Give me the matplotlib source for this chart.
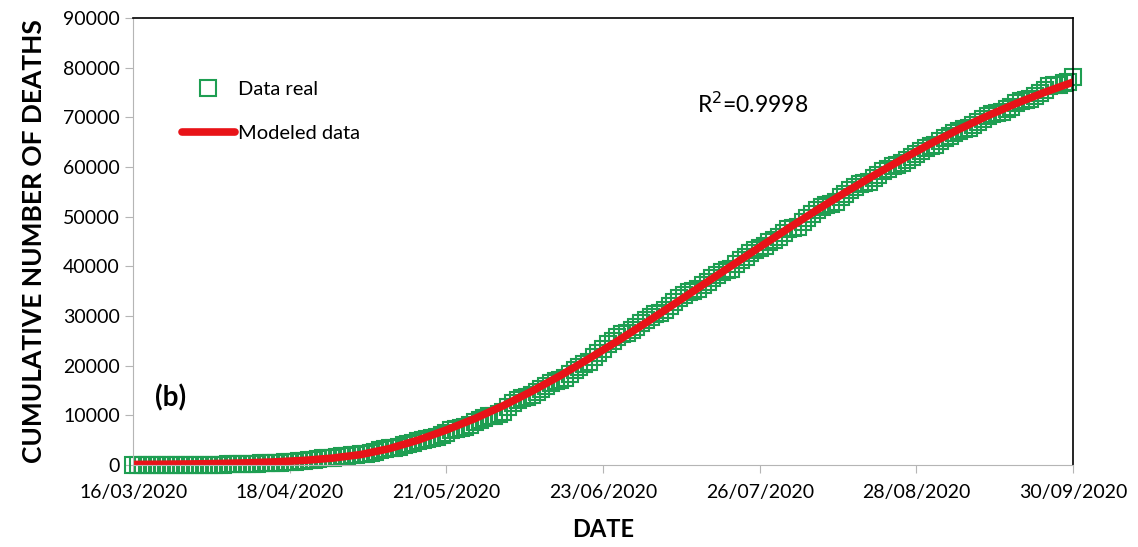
import datetime as dt
import matplotlib
matplotlib.use("Agg")
import matplotlib.pyplot as plt
import numpy as np

# cumulative deaths, one value per day from 16/03/2020 to 30/09/2020
deaths_mar = [0, 0, 1, 1, 2, 2, 2, 4, 5, 6, 8, 12, 16, 20, 28, 29]
deaths_apr = [37, 50, 60, 79, 94, 125, 141, 174, 194, 233, 273, 296, 332, 406, 449,
              486, 546, 650, 686, 712, 857, 970, 1069, 1221, 1305, 1351, 1434, 1569, 1732, 1859]
deaths_may = [1972, 2061, 2154, 2271, 2507, 2704, 2961, 3160, 3353, 3465, 3573, 3926, 4220, 4477,
              4767, 5045, 5177, 5332, 5666, 6090, 6510, 6989, 7179, 7394, 7633, 8134, 8597, 9044,
              9415, 9779, 9930]
deaths_jun = [10167, 10637, 11729, 12545, 13170, 13511, 13699, 14053, 14649, 15357, 15944, 16448,
              16872, 17141, 17580, 18310, 19080, 19747, 20394, 20781, 21825, 22584, 23377, 24324,
              25060, 25779, 26381, 26648, 27121, 27769]
deaths_jul = [28510, 29189, 29843, 30366, 30639, 31119, 32014, 32796, 33526, 34191, 34730, 35006,
              35491, 36327, 36906, 37574, 38310, 38888, 39184, 39485, 40400, 41190, 41908, 42645,
              43374, 43680, 44022, 44876, 45361, 46000, 46688]
deaths_aug = [47472, 47746, 48012, 48869, 49698, 50517, 51311, 52006, 52298, 52551, 53003, 53929,
              54666, 55293, 55908, 56543, 56757, 57023, 57774, 58481, 59106, 59610, 60254, 60480,
              60800, 61450, 62076, 62594, 63146, 63819, 64158]
deaths_sep = [64414, 65241, 65816, 66329, 66851, 67326, 67558, 67781, 68484, 69049, 69649, 70183,
              70604, 70821, 71049, 71678, 72179, 72803, 73258, 73493, 73697, 74348, 74949, 75439,
              76243, 76430, 76603, 76891, 77163, 78078]

# modeled curve, every 6 days from 16/03/2020
model_days = list(range(0, 199, 6))
model_vals = [100, 140, 200, 290, 420, 620, 920, 1380, 2100, 3300, 5000, 7050, 9350, 11950,
              14850, 18000, 21400, 24930, 28630, 32430, 36260, 40080, 43880, 47640, 51320,
              54880, 58300, 61560, 64720, 67620, 70320, 72800, 75050, 77100]

tick_labels = ["16/03/2020", "18/04/2020", "21/05/2020", "23/06/2020",
               "26/07/2020", "28/08/2020", "30/09/2020"]

start = dt.date(2020, 3, 16)
deaths = deaths_mar + deaths_apr + deaths_may + deaths_jun + deaths_jul + deaths_aug + deaths_sep
dates = [start + dt.timedelta(days=i) for i in range(len(deaths))]
model_dates = [start + dt.timedelta(days=d) for d in model_days]
tick_dates = [dt.datetime.strptime(t, "%d/%m/%Y").date() for t in tick_labels]

plt.rcParams['font.family'] = ['Lato', 'DejaVu Sans']

fig = plt.figure(figsize=(11.38, 5.47), dpi=100)
ax = fig.add_axes([0.117, 0.150, 0.826, 0.817])

green = "#1e9e52"
red = "#e81318"

ax.plot(dates, deaths, linestyle='none', marker='s', markersize=11,
        markerfacecolor='none', markeredgecolor=green, markeredgewidth=1.5,
        clip_on=False, label='Data real')
ax.plot(model_dates, model_vals, color=red, linewidth=5.5, solid_capstyle='round',
        label='Modeled data')

ax.set_xlim(tick_dates[0], tick_dates[-1])
ax.set_ylim(0, 90000)
ax.set_xticks(tick_dates)
ax.set_xticklabels(tick_labels)
ax.set_yticks(np.arange(0, 90001, 10000))

for s in ['left', 'bottom']:
    ax.spines[s].set_color('#b5b5b5')
for s in ['top', 'right']:
    ax.spines[s].set_color('black')
    ax.spines[s].set_linewidth(1.2)
ax.tick_params(axis='both', colors='#b5b5b5', labelcolor='black', labelsize=14,
               direction='out', length=6)
ax.tick_params(axis='x', pad=8)

ax.set_xlabel('DATE', fontsize=17, fontweight='bold', labelpad=12)
ax.set_ylabel('CUMULATIVE NUMBER OF DEATHS', fontsize=19, fontweight='bold', labelpad=12)

ax.text(0.60, 0.808, r'R$^2$=0.9998', transform=ax.transAxes, fontsize=16.5, va='center')
ax.text(0.023, 0.13, '(b)', transform=ax.transAxes, fontsize=20, fontweight='bold')

ax.legend(loc='upper left', bbox_to_anchor=(0.033, 0.90), frameon=False, fontsize=14.5,
          handlelength=2.6, handletextpad=0.15, labelspacing=1.35)

fig.savefig('out.png', dpi=100)
